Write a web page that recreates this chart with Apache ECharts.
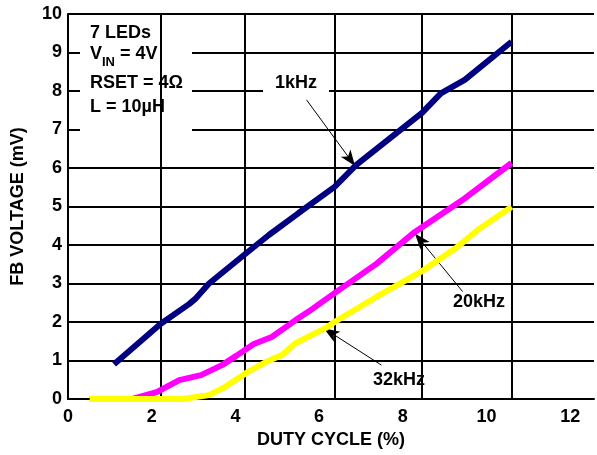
<!DOCTYPE html>
<html>
<head>
<meta charset="utf-8">
<script src="https://cdn.jsdelivr.net/npm/echarts@6/dist/echarts.min.js"></script>
<style>
html,body{margin:0;padding:0;background:#fff;}
#c{width:597px;height:455px;}
</style>
</head>
<body>
<div id="c"></div>
<script>
// ---- data ----
const xTickLabels = [0, 2, 4, 6, 8, 10, 12];
const gridX = [2.21, 4.23, 6.37, 8.46, 10.60];   // vertical grid lines as drawn in the reference

const duty1k = [1.10, 2.21, 2.90, 3.04, 3.37, 4.25, 4.80, 5.51, 6.37, 6.89, 8.46, 8.91, 9.48, 10.60];
const fb1k   = [0.90, 1.95, 2.47, 2.60, 3.00, 3.78, 4.26, 4.83, 5.51, 6.08, 7.43, 7.94, 8.29, 9.28];

const duty20k = [0.52, 1.54, 2.12, 2.66, 3.18, 3.68, 4.02, 4.44, 4.87, 5.44, 5.75, 6.37, 7.37, 8.29, 9.48, 10.60];
const fb20k   = [0.00, 0.00, 0.18, 0.49, 0.62, 0.88, 1.12, 1.43, 1.61, 2.05, 2.27, 2.75, 3.51, 4.34, 5.21, 6.13];

const duty32k = [0.52, 2.73, 3.37, 3.75, 4.25, 4.73, 5.11, 5.44, 6.15, 6.37, 7.37, 8.46, 9.27, 9.79, 10.60];
const fb32k   = [0.00, 0.00, 0.10, 0.31, 0.67, 0.96, 1.14, 1.45, 1.84, 2.00, 2.65, 3.32, 3.92, 4.39, 4.99];

const arrows = [
  { from: [5.70, 7.77], to: [6.86, 6.05] },   // 1kHz
  { from: [9.43, 2.79], to: [8.29, 4.30] },   // 20kHz
  { from: [7.49, 0.88], to: [6.11, 1.84] }    // 32kHz
];

const zip = (xs, ys) => xs.map((x, i) => [x, ys[i]]);
const FONT = '"Liberation Sans", Arial, sans-serif';
const FS = 18;
const TXT = 'bold ' + FS + 'px ' + FONT;

const chart = echarts.init(document.getElementById('c'), null, { renderer: 'canvas' });

const option = {
  animation: false,
  backgroundColor: '#fff',
  grid: { left: 68, right: 0, top: 14, bottom: 56, show: false },
  xAxis: {
    type: 'value', min: 0, max: 12.57, interval: 2,
    name: 'DUTY CYCLE (%)', nameLocation: 'middle', nameGap: 32,
    nameTextStyle: { fontFamily: FONT, fontWeight: 'bold', fontSize: FS, color: '#000' },
    axisLine: { show: true, lineStyle: { color: '#000', width: 2 } },
    axisTick: { show: false },
    splitLine: { show: false },
    axisLabel: {
      fontFamily: FONT, fontWeight: 'bold', fontSize: FS, color: '#000', margin: 9,
      formatter: v => (xTickLabels.indexOf(v) >= 0 ? String(v) : '')
    }
  },
  yAxis: {
    type: 'value', min: 0, max: 10, interval: 1,
    name: 'FB VOLTAGE (mV)', nameLocation: 'middle', nameGap: 41, nameRotate: 90,
    nameTextStyle: { fontFamily: FONT, fontWeight: 'bold', fontSize: FS, color: '#000' },
    axisLine: { show: true, lineStyle: { color: '#000', width: 2 } },
    axisTick: { show: true, inside: true, length: 11, lineStyle: { color: '#000', width: 2 } },
    splitLine: { show: true, lineStyle: { color: '#000', width: 2 } },
    axisLabel: { fontFamily: FONT, fontWeight: 'bold', fontSize: FS, color: '#000', margin: 6 }
  },
  graphic: {
    elements: [
      { type: 'rect', z: 3, silent: true, shape: { x: 80, y: 20, width: 112, height: 112 }, style: { fill: '#fff' } },
      { type: 'rect', z: 3, silent: true, shape: { x: 263, y: 72, width: 66, height: 26 }, style: { fill: '#fff' } },
      { type: 'rect', z: 3, silent: true, shape: { x: 330, y: 364, width: 100, height: 32 }, style: { fill: '#fff' } },
      { type: 'text', z: 10, x: 90, y: 33, style: { text: '7 LEDs', font: TXT, fill: '#000', align: 'left', verticalAlign: 'middle' } },
      { type: 'text', z: 10, x: 90, y: 58, style: {
          text: '{b|V}{s|IN}{b| = 4V}', fill: '#000', align: 'left', verticalAlign: 'middle',
          rich: {
            b: { fontFamily: FONT, fontWeight: 'bold', fontSize: FS, height: 24, verticalAlign: 'top' },
            s: { fontFamily: FONT, fontWeight: 'bold', fontSize: 13, height: 24, padding: [8, 0, 0, 0], verticalAlign: 'top' }
          } } },
      { type: 'text', z: 10, x: 90, y: 83, style: { text: 'RSET = 4Ω', font: TXT, fill: '#000', align: 'left', verticalAlign: 'middle' } },
      { type: 'text', z: 10, x: 90, y: 107, style: { text: 'L = 10µH', font: TXT, fill: '#000', align: 'left', verticalAlign: 'middle' } },
      { type: 'text', z: 10, x: 296, y: 83, style: { text: '1kHz', font: TXT, fill: '#000', align: 'center', verticalAlign: 'middle' } },
      { type: 'text', z: 10, x: 479, y: 302, style: { text: '20kHz', font: TXT, fill: '#000', align: 'center', verticalAlign: 'middle' } },
      { type: 'text', z: 10, x: 399, y: 380, style: { text: '32kHz', font: TXT, fill: '#000', align: 'center', verticalAlign: 'middle' } }
    ]
  },
  series: [
    {
      type: 'line', name: 'grid', data: [], z: 1, silent: true,
      markLine: {
        silent: true, symbol: 'none', animation: false,
        label: { show: false },
        lineStyle: { color: '#000', width: 2, type: 'solid' },
        data: gridX.map(v => ({ xAxis: v }))
      }
    },
    { type: 'line', name: '1kHz', data: zip(duty1k, fb1k), z: 5, symbol: 'none', lineStyle: { color: '#000080', width: 6 }, itemStyle: { color: '#000080' } },
    { type: 'line', name: '20kHz', data: zip(duty20k, fb20k), z: 5, symbol: 'none', lineStyle: { color: '#ff00ff', width: 6 }, itemStyle: { color: '#ff00ff' } },
    { type: 'line', name: '32kHz', data: zip(duty32k, fb32k), z: 6, symbol: 'none', lineStyle: { color: '#ffff00', width: 6 }, itemStyle: { color: '#ffff00' } },
    {
      type: 'line', name: 'arrows', data: [], z: 8, silent: true,
      markLine: {
        silent: true, symbol: ['none', 'arrow'], symbolSize: [9, 16], animation: false,
        label: { show: false },
        lineStyle: { color: '#000', width: 1, type: 'solid' },
        data: arrows.map(a => [{ coord: a.from }, { coord: a.to }])
      }
    }
  ]
};
chart.setOption(option);
</script>
</body>
</html>
